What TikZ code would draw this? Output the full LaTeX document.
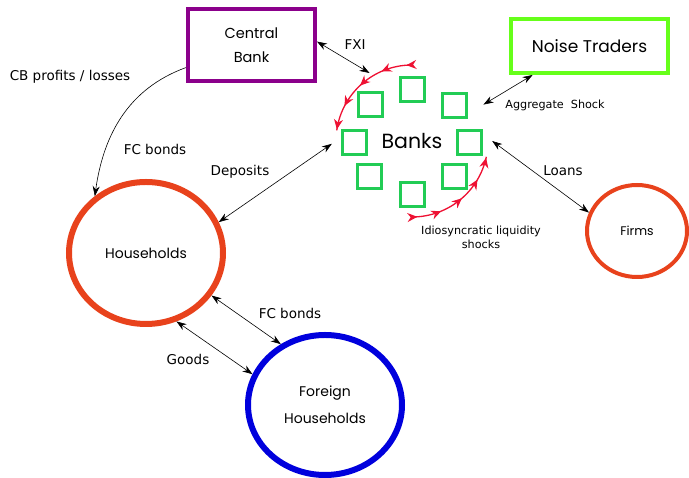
\documentclass[tikz,border=0pt]{standalone}
\usepackage{fontspec}
\setmainfont{DejaVu Sans}
\newfontfamily\geo{Poppins}
\usetikzlibrary{arrows.meta,decorations.markings,shapes.geometric}
\definecolor{cbpurple}{RGB}{139,0,139}
\definecolor{ntgreen}{RGB}{102,255,26}
\definecolor{bkgreen}{RGB}{34,204,85}
\definecolor{hhorange}{RGB}{232,66,28}
\definecolor{fhblue}{RGB}{0,0,221}
\definecolor{shockred}{RGB}{238,17,51}
\tikzset{
  box/.style={draw, rectangle, inner sep=0pt, align=center, font=\geo\fontsize{14.5}{24}\selectfont},
  agent/.style={draw, ellipse, inner sep=0pt, align=center, font=\geo\fontsize{14}{27}\selectfont},
  bsq/.style={draw=bkgreen, line width=3pt, rectangle, minimum size=24pt, inner sep=0pt},
  flow/.style={{Stealth[length=10pt,width=7pt]}-{Stealth[length=10pt,width=7pt]}, line width=0.6pt, black},
  oneflow/.style={-{Stealth[length=10pt,width=7pt]}, line width=0.6pt, black},
  lbl/.style={font=\fontsize{13.5}{15}\selectfont, inner sep=0pt},
  slbl/.style={font=\fontsize{11.2}{14}\selectfont, inner sep=0pt, align=center},
  shock/.style={shockred, line width=1.3pt, postaction={decorate},
    decoration={markings,
      mark=at position 0.04 with {\arrow{Stealth[length=10pt,width=9pt]}},
      mark=at position 0.28 with {\arrow{Stealth[length=10pt,width=9pt]}},
      mark=at position 0.52 with {\arrow{Stealth[length=10pt,width=9pt]}},
      mark=at position 0.76 with {\arrow{Stealth[length=10pt,width=9pt]}},
      mark=at position 0.99 with {\arrow{Stealth[length=10pt,width=9pt]}}}}
}
\begin{document}
\begin{tikzpicture}[x=1pt,y=1pt]
\useasboundingbox (0,0) rectangle (689,478);
% agents
\node[box, draw=cbpurple, line width=4pt, minimum width=127pt, minimum height=72pt] (cb) at (251.5,433) {Central\\Bank};
\node[box, draw=ntgreen, line width=4pt, minimum width=157pt, minimum height=54pt, font=\geo\fontsize{17}{20}\selectfont] (nt) at (589.5,432) {Noise Traders};
\node[agent, draw=hhorange, line width=6pt, minimum width=154pt, minimum height=142pt] (hh) at (146,225) {Households};
\node[agent, draw=hhorange, line width=4pt, minimum width=100pt, minimum height=92pt, font=\geo\fontsize{12.5}{14}\selectfont] (fi) at (637,247) {Firms};
\node[agent, draw=fhblue, line width=6pt, minimum width=154pt, minimum height=140pt] (fh) at (325,73) {Foreign\\Households};
% banks
\node[circle, minimum size=160pt, inner sep=0pt] (banks) at (412,337) {};
\node[font=\geo\fontsize{20.5}{24}\selectfont, inner sep=0pt] (bl) at (412,337) {Banks};
\node[bsq] (s1) at (370,373) {};
\node[bsq] (s2) at (412,388) {};
\node[bsq] (s3) at (454,372) {};
\node[bsq] (s4) at (354,335) {};
\node[bsq] (s5) at (469,335) {};
\node[bsq] (s6) at (369,301) {};
\node[bsq] (s7) at (412,283) {};
\node[bsq] (s8) at (454,301) {};
% idiosyncratic shocks
\draw[shock] (banks.center) ++(91:76) arc[start angle=91, end angle=172, radius=76];
\draw[shock] (banks.center) ++(-89:76) arc[start angle=-89, end angle=-12, radius=76];
% flows
\draw[flow] (cb.3) -- (banks.122);
\draw[flow] (nt.207) -- (banks.27);
\draw[flow] (banks.0) -- (fi.159);
\draw[flow] (hh.23) -- (banks.182);
\draw[oneflow] (cb.199) to[out=200, in=82] (hh.132);
\draw[flow] (hh.-33) -- (fh.126);
\draw[flow] (hh.-66) -- (fh.157);
% labels
\node[lbl] (lfxi) at (355,433) {FXI};
\node[lbl] (lcb) at (70,401) {CB profits / losses};
\node[lbl] (lfc1) at (155,329) {FC bonds};
\node[lbl] (ldep) at (240,306) {Deposits};
\node[slbl] (lagg) at (555,373) {Aggregate~ Shock};
\node[lbl] (lloan) at (563,307) {Loans};
\node[slbl] (lidio) at (481,241) {Idiosyncratic liquidity\\shocks};
\node[lbl] (lfc2) at (290,165) {FC bonds};
\node[lbl] (lgoods) at (188,119) {Goods};
\end{tikzpicture}
\end{document}
